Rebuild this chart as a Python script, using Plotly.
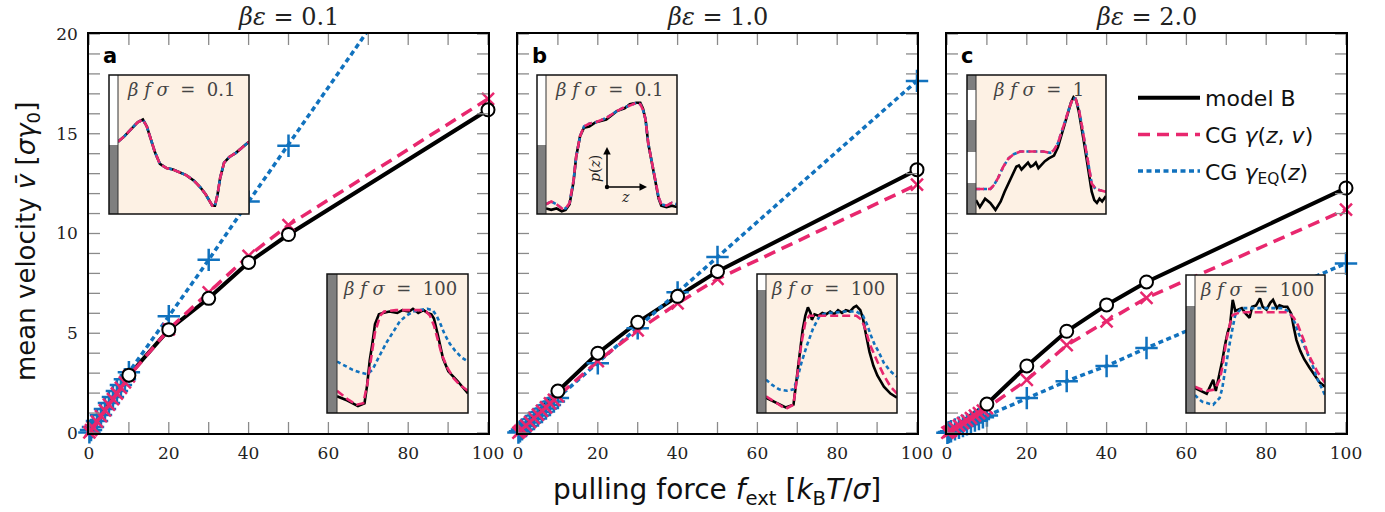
import plotly.graph_objects as go

W, H = 1385, 512

# ---------------- data: mean velocity vs pulling force ----------------
forces = [0.1, 0.5, 1, 2, 3, 4, 5, 6, 7, 8, 9, 10, 20, 30, 40, 50, 100]

panel_eps = ["0.1", "1.0", "2.0"]
panel_letters = ["a", "b", "c"]

# panel a  (beta*eps = 0.1)
v_modelB_a = [0.03, 0.15, 0.29, 0.58, 0.87, 1.16, 1.44, 1.73, 2.02, 2.30, 2.59, 2.90, 5.18, 6.75, 8.55, 9.95, 16.2]
v_cg_a     = [0.03, 0.14, 0.28, 0.57, 0.85, 1.13, 1.42, 1.70, 1.98, 2.26, 2.54, 2.84, 5.20, 7.05, 8.88, 10.42, 16.75]
v_eq_a     = [0.03, 0.15, 0.30, 0.60, 0.90, 1.20, 1.50, 1.80, 2.10, 2.40, 2.70, 3.05, 5.85, 8.68, 11.6, 14.4, 28.8]
# panel b  (beta*eps = 1.0)
v_modelB_b = [0.02, 0.11, 0.21, 0.42, 0.63, 0.84, 1.05, 1.26, 1.47, 1.68, 1.89, 2.10, 4.00, 5.55, 6.85, 8.10, 13.2]
v_cg_b     = [0.02, 0.09, 0.18, 0.37, 0.55, 0.74, 0.92, 1.11, 1.29, 1.48, 1.66, 1.85, 3.60, 5.15, 6.50, 7.72, 12.45]
v_eq_b     = [0.02, 0.09, 0.18, 0.35, 0.53, 0.70, 0.88, 1.05, 1.23, 1.40, 1.58, 1.75, 3.50, 5.25, 7.05, 8.82, 17.65]
# panel c  (beta*eps = 2.0)
v_modelB_c = [0.015, 0.07, 0.145, 0.29, 0.44, 0.58, 0.73, 0.87, 1.02, 1.16, 1.31, 1.45, 3.36, 5.10, 6.42, 7.57, 12.28]
v_cg_c     = [0.013, 0.06, 0.125, 0.25, 0.375, 0.50, 0.625, 0.75, 0.875, 1.00, 1.12, 1.25, 2.66, 4.40, 5.60, 6.77, 11.2]
v_eq_c     = [0.009, 0.044, 0.088, 0.18, 0.26, 0.35, 0.44, 0.53, 0.62, 0.70, 0.79, 0.88, 1.75, 2.60, 3.36, 4.26, 8.50]

modelB = [v_modelB_a, v_modelB_b, v_modelB_c]
cg = [v_cg_a, v_cg_b, v_cg_c]
eq = [v_eq_a, v_eq_b, v_eq_c]

x_ticks = [0, 20, 40, 60, 80, 100]
x_tick_marks = [0, 10, 20, 30, 40, 50, 60, 70, 80, 90, 100]
y_ticks = [0, 5, 10, 15, 20]
y_tick_marks = list(range(0, 21))

# ---------------- data: inset density profiles p(z) ----------------
# a, beta f sigma = 0.1 (all three curves coincide)
a1_z = [0, 0.05, 0.10, 0.15, 0.19, 0.22, 0.25, 0.28, 0.32, 0.37, 0.42, 0.47, 0.52, 0.58, 0.63, 0.67, 0.70, 0.72, 0.74, 0.76, 0.78, 0.81, 0.85, 0.90, 0.95, 1.00]
a1_p = [0.52, 0.56, 0.61, 0.66, 0.68, 0.63, 0.54, 0.45, 0.36, 0.33, 0.32, 0.30, 0.28, 0.24, 0.19, 0.14, 0.09, 0.06, 0.06, 0.14, 0.26, 0.37, 0.41, 0.44, 0.48, 0.52]
# a, beta f sigma = 100
a2_model_z = [0, 0.08, 0.16, 0.21, 0.23, 0.25, 0.27, 0.29, 0.32, 0.35, 0.40, 0.46, 0.50, 0.55, 0.58, 0.62, 0.66, 0.69, 0.72, 0.74, 0.77, 0.81, 0.85, 0.92, 1.0]
a2_model_p = [0.12, 0.09, 0.05, 0.07, 0.20, 0.38, 0.50, 0.64, 0.71, 0.72, 0.73, 0.72, 0.74, 0.73, 0.75, 0.72, 0.74, 0.72, 0.71, 0.68, 0.56, 0.39, 0.30, 0.23, 0.14]
a2_cg_z = [0, 0.08, 0.15, 0.20, 0.23, 0.26, 0.29, 0.33, 0.36, 0.45, 0.55, 0.63, 0.68, 0.71, 0.74, 0.77, 0.80, 0.84, 0.89, 0.94, 1.0]
a2_cg_p = [0.16, 0.10, 0.06, 0.07, 0.20, 0.40, 0.58, 0.70, 0.73, 0.74, 0.74, 0.74, 0.73, 0.70, 0.63, 0.52, 0.42, 0.33, 0.25, 0.20, 0.16]
a2_eq_z = [0, 0.06, 0.12, 0.18, 0.23, 0.27, 0.30, 0.34, 0.38, 0.43, 0.48, 0.53, 0.58, 0.63, 0.69, 0.73, 0.76, 0.79, 0.82, 0.86, 0.90, 0.95, 1.0]
a2_eq_p = [0.37, 0.34, 0.31, 0.29, 0.28, 0.31, 0.37, 0.44, 0.51, 0.59, 0.66, 0.70, 0.73, 0.74, 0.75, 0.74, 0.70, 0.64, 0.57, 0.50, 0.45, 0.40, 0.37]
# b, beta f sigma = 0.1
b1_z = [0, 0.04, 0.08, 0.12, 0.15, 0.18, 0.21, 0.23, 0.26, 0.29, 0.33, 0.38, 0.46, 0.54, 0.60, 0.64, 0.69, 0.72, 0.74, 0.76, 0.78, 0.80, 0.82, 0.84, 0.86, 0.88, 0.92, 0.96, 1.0]
b1_cg_p = [0.07, 0.09, 0.07, 0.04, 0.04, 0.08, 0.24, 0.41, 0.56, 0.63, 0.65, 0.66, 0.69, 0.74, 0.77, 0.78, 0.80, 0.79, 0.75, 0.68, 0.51, 0.41, 0.32, 0.22, 0.12, 0.07, 0.06, 0.08, 0.07]
b1_model_p = [0.04, 0.03, 0.04, 0.02, 0.03, 0.07, 0.23, 0.41, 0.56, 0.62, 0.63, 0.66, 0.68, 0.74, 0.76, 0.79, 0.80, 0.80, 0.76, 0.68, 0.51, 0.41, 0.32, 0.21, 0.11, 0.06, 0.05, 0.06, 0.05]
# b, beta f sigma = 100
b2_model_z = [0, 0.08, 0.15, 0.21, 0.23, 0.26, 0.28, 0.30, 0.32, 0.34, 0.35, 0.37, 0.40, 0.43, 0.46, 0.49, 0.52, 0.55, 0.58, 0.61, 0.64, 0.67, 0.69, 0.72, 0.74, 0.76, 0.79, 0.82, 0.85, 0.90, 0.95, 1.0]
b2_model_p = [0.11, 0.07, 0.04, 0.06, 0.22, 0.42, 0.60, 0.70, 0.76, 0.72, 0.67, 0.71, 0.70, 0.72, 0.71, 0.73, 0.71, 0.74, 0.72, 0.74, 0.73, 0.76, 0.77, 0.74, 0.68, 0.58, 0.44, 0.34, 0.27, 0.19, 0.14, 0.11]
b2_cg_z = [0, 0.08, 0.15, 0.21, 0.24, 0.27, 0.30, 0.33, 0.40, 0.50, 0.60, 0.69, 0.73, 0.76, 0.79, 0.82, 0.85, 0.90, 0.95, 1.0]
b2_cg_p = [0.12, 0.07, 0.03, 0.06, 0.28, 0.50, 0.65, 0.70, 0.70, 0.70, 0.70, 0.70, 0.67, 0.60, 0.50, 0.43, 0.37, 0.27, 0.19, 0.14]
b2_eq_z = [0, 0.05, 0.10, 0.16, 0.21, 0.24, 0.27, 0.31, 0.36, 0.41, 0.46, 0.51, 0.60, 0.69, 0.74, 0.77, 0.80, 0.83, 0.86, 0.90, 0.95, 1.0]
b2_eq_p = [0.24, 0.20, 0.17, 0.16, 0.17, 0.25, 0.36, 0.48, 0.61, 0.70, 0.72, 0.72, 0.73, 0.73, 0.70, 0.64, 0.56, 0.49, 0.44, 0.36, 0.30, 0.26]
# c, beta f sigma = 1
c1_cg_z = [0, 0.05, 0.11, 0.14, 0.17, 0.21, 0.25, 0.29, 0.34, 0.39, 0.45, 0.52, 0.57, 0.60, 0.63, 0.66, 0.69, 0.72, 0.745, 0.765, 0.79, 0.81, 0.83, 0.85, 0.87, 0.89, 0.92, 0.96, 1.0]
c1_cg_p = [0.18, 0.18, 0.18, 0.21, 0.26, 0.34, 0.40, 0.43, 0.45, 0.45, 0.45, 0.45, 0.44, 0.46, 0.51, 0.59, 0.68, 0.77, 0.83, 0.83, 0.76, 0.66, 0.55, 0.43, 0.32, 0.22, 0.18, 0.17, 0.16]
c1_model_z = [0, 0.03, 0.07, 0.11, 0.15, 0.19, 0.22, 0.24, 0.27, 0.29, 0.31, 0.33, 0.35, 0.37, 0.40, 0.42, 0.44, 0.46, 0.48, 0.50, 0.53, 0.56, 0.60, 0.63, 0.66, 0.70, 0.73, 0.75, 0.77, 0.79, 0.81, 0.83, 0.85, 0.87, 0.89, 0.91, 0.93, 0.95, 0.97, 1.0]
c1_model_p = [0.10, 0.05, 0.11, 0.08, 0.03, 0.09, 0.16, 0.20, 0.26, 0.30, 0.34, 0.35, 0.32, 0.34, 0.37, 0.34, 0.35, 0.37, 0.33, 0.35, 0.38, 0.40, 0.42, 0.48, 0.58, 0.70, 0.80, 0.84, 0.82, 0.74, 0.64, 0.52, 0.40, 0.28, 0.16, 0.10, 0.08, 0.11, 0.09, 0.13]
# c, beta f sigma = 100
c2_model_z = [0, 0.05, 0.09, 0.12, 0.14, 0.16, 0.19, 0.21, 0.23, 0.25, 0.27, 0.29, 0.31, 0.33, 0.36, 0.39, 0.42, 0.44, 0.47, 0.50, 0.52, 0.55, 0.58, 0.60, 0.63, 0.65, 0.68, 0.71, 0.74, 0.76, 0.78, 0.81, 0.84, 0.88, 0.92, 0.96, 1.0]
c2_model_p = [0.18, 0.16, 0.14, 0.20, 0.24, 0.16, 0.28, 0.38, 0.49, 0.58, 0.64, 0.82, 0.74, 0.75, 0.76, 0.72, 0.69, 0.77, 0.78, 0.83, 0.77, 0.75, 0.80, 0.82, 0.76, 0.78, 0.77, 0.77, 0.72, 0.62, 0.53, 0.45, 0.39, 0.33, 0.27, 0.22, 0.19]
c2_cg_z = [0, 0.05, 0.09, 0.15, 0.19, 0.21, 0.24, 0.27, 0.29, 0.35, 0.45, 0.55, 0.65, 0.71, 0.74, 0.76, 0.79, 0.81, 0.84, 0.86, 0.90, 0.94, 1.0]
c2_cg_p = [0.19, 0.17, 0.16, 0.17, 0.24, 0.33, 0.52, 0.65, 0.71, 0.73, 0.73, 0.73, 0.73, 0.73, 0.71, 0.69, 0.64, 0.59, 0.52, 0.45, 0.37, 0.30, 0.22]
c2_eq_z = [0, 0.03, 0.06, 0.10, 0.14, 0.19, 0.21, 0.23, 0.25, 0.27, 0.29, 0.31, 0.36, 0.45, 0.55, 0.68, 0.71, 0.74, 0.77, 0.79, 0.82, 0.85, 0.88, 0.91, 0.94, 0.97, 1.0]
c2_eq_p = [0.13, 0.10, 0.08, 0.07, 0.06, 0.11, 0.18, 0.30, 0.42, 0.52, 0.62, 0.71, 0.76, 0.76, 0.76, 0.76, 0.74, 0.71, 0.65, 0.59, 0.53, 0.47, 0.40, 0.33, 0.25, 0.19, 0.13]

inset_labels = ["0.1", "100", "0.1", "100", "1", "100"]

# ---------------- styling / layout geometry (pixels) ----------------
BLACK = "#000000"
PINK = "#E8276E"
BLUE = "#1172BE"
GRAY = "#7F7F7F"
TICK = "#8A8A8A"
TICK_LEN = 11
INSET_BG = "#FDF1E4"
SERIF = "DejaVu Serif"
SANS = "DejaVu Sans"

PANEL_LEFT = [89, 518, 947]
PANEL_W = 399
PANEL_TOP, PANEL_BOTTOM = 34, 433
X_RANGE = [0, 100]
Y_RANGE = [0, 20]

INSETS = [
    dict(panel=0, box=(109, 75, 249, 214), bar=9, segs=[(75, 145, "white"), (145, 214, GRAY)],
         curves=[(a1_z, a1_p, "m"), (a1_z, a1_p, "eq"), (a1_z, a1_p, "cg")]),
    dict(panel=0, box=(327, 274, 468, 413), bar=10, segs=[(274, 413, GRAY)],
         curves=[(a2_model_z, a2_model_p, "m"), (a2_eq_z, a2_eq_p, "eq"), (a2_cg_z, a2_cg_p, "cg")]),
    dict(panel=1, box=(537, 75, 677, 214), bar=9, segs=[(75, 145, "white"), (145, 214, GRAY)],
         curves=[(b1_z, b1_model_p, "m"), (b1_z, b1_cg_p, "eq"), (b1_z, b1_cg_p, "cg")]),
    dict(panel=1, box=(757, 274, 897, 413), bar=9, segs=[(274, 290, "white"), (290, 413, GRAY)],
         curves=[(b2_model_z, b2_model_p, "m"), (b2_eq_z, b2_eq_p, "eq"), (b2_cg_z, b2_cg_p, "cg")]),
    dict(panel=2, box=(967, 75, 1106, 214), bar=9,
         segs=[(75, 90, GRAY), (90, 120, "white"), (120, 152, GRAY), (152, 183, "white"), (183, 214, GRAY)],
         curves=[(c1_model_z, c1_model_p, "m"), (c1_cg_z, c1_cg_p, "eq"), (c1_cg_z, c1_cg_p, "cg")]),
    dict(panel=2, box=(1186, 275, 1325, 413), bar=9, segs=[(275, 306, "white"), (306, 413, GRAY)],
         curves=[(c2_model_z, c2_model_p, "m"), (c2_eq_z, c2_eq_p, "eq"), (c2_cg_z, c2_cg_p, "cg")]),
]
Z_RANGE = [0, 1]
P_RANGE = [0, 1]


def fx(p):
    return p / W


def fy(p):
    return 1 - p / H


fig = go.Figure()

# ---------------- main panels ----------------
for i in range(3):
    xa = "x" if i == 0 else f"x{i + 1}"
    ya = "y" if i == 0 else f"y{i + 1}"
    show = (i == 2)
    mB, vcg, veq = modelB[i], cg[i], eq[i]

    fig.add_trace(go.Scatter(x=forces, y=mB, mode="lines", xaxis=xa, yaxis=ya,
                             line=dict(color=BLACK, width=4), name="model B",
                             showlegend=show, legendrank=1, legendgroup="m", hoverinfo="skip"))
    fig.add_trace(go.Scatter(x=forces, y=veq, mode="lines", xaxis=xa, yaxis=ya,
                             line=dict(color=BLUE, width=3.5, dash="5px,3.5px"),
                             name="CG <i>γ</i><sub>EQ</sub>(<i>z</i>)",
                             showlegend=show, legendrank=3, legendgroup="eq", hoverinfo="skip"))
    fig.add_trace(go.Scatter(x=forces, y=vcg, mode="lines", xaxis=xa, yaxis=ya,
                             line=dict(color=PINK, width=3.5, dash="12px,7px"),
                             name="CG <i>γ</i>(<i>z</i>, <i>v</i>)",
                             showlegend=show, legendrank=2, legendgroup="cg", hoverinfo="skip"))

    # markers (only points inside the plotted range)
    eq_pts = [(f, v) for f, v in zip(forces, veq) if Y_RANGE[0] <= v <= Y_RANGE[1]]
    fig.add_trace(go.Scatter(x=[p[0] for p in eq_pts], y=[p[1] for p in eq_pts], mode="markers",
                             xaxis=xa, yaxis=ya, cliponaxis=False, showlegend=False, hoverinfo="skip",
                             marker=dict(symbol="cross-thin", size=16, line=dict(color=BLUE, width=2.5))))
    fig.add_trace(go.Scatter(x=forces, y=vcg, mode="markers",
                             xaxis=xa, yaxis=ya, cliponaxis=False, showlegend=False, hoverinfo="skip",
                             marker=dict(symbol="x-thin", size=12, line=dict(color=PINK, width=2.5))))
    circ = [(f, v) for f, v in zip(forces, mB) if f >= 10]
    fig.add_trace(go.Scatter(x=[p[0] for p in circ], y=[p[1] for p in circ], mode="markers",
                             xaxis=xa, yaxis=ya, cliponaxis=False, showlegend=False, hoverinfo="skip",
                             marker=dict(symbol="circle", size=13, color="white",
                                         line=dict(color=BLACK, width=2))))

# ---------------- insets ----------------
style = {
    "m": dict(color=BLACK, width=2.6),
    "eq": dict(color=BLUE, width=2.6, dash="4px,3px"),
    "cg": dict(color=PINK, width=2.6, dash="8px,4px"),
}
for k, ins in enumerate(INSETS):
    idx = 4 + k
    xa, ya = f"x{idx}", f"y{idx}"
    # opaque background of the inset (covers main curves beneath it)
    fig.add_trace(go.Scatter(x=[Z_RANGE[0], Z_RANGE[1], Z_RANGE[1], Z_RANGE[0], Z_RANGE[0]],
                             y=[P_RANGE[0], P_RANGE[0], P_RANGE[1], P_RANGE[1], P_RANGE[0]],
                             mode="lines", fill="toself", fillcolor=INSET_BG, line=dict(width=0),
                             xaxis=xa, yaxis=ya, showlegend=False, hoverinfo="skip"))
    for z, p, kind in ins["curves"]:
        fig.add_trace(go.Scatter(x=z, y=p, mode="lines", line=style[kind], xaxis=xa, yaxis=ya,
                                 showlegend=False, hoverinfo="skip"))

layout = dict(
    width=W, height=H, margin=dict(l=0, r=0, t=0, b=0, autoexpand=False),
    paper_bgcolor="white", plot_bgcolor="rgba(0,0,0,0)",
    showlegend=True,
    legend=dict(x=fx(1133), y=fy(77), xanchor="left", yanchor="top",
                font=dict(family=SANS, size=22, color="#111"), bgcolor="rgba(0,0,0,0)",
                tracegroupgap=5, itemwidth=62),
)

shapes = []
annotations = []

for i in range(3):
    sx = "" if i == 0 else str(i + 1)
    left = PANEL_LEFT[i]
    common = dict(showline=True, linecolor=BLACK, linewidth=1.5, mirror=True,
                  ticks="", showgrid=False, zeroline=False, automargin=False,
                  tickfont=dict(family=SERIF, size=17, color="#222"))
    layout[f"xaxis{sx}"] = dict(domain=[fx(left), fx(left + PANEL_W)], range=X_RANGE,
                                anchor=f"y{sx}", tickmode="array", tickvals=x_ticks, ticklabelstandoff=4,
                                **common)
    layout[f"yaxis{sx}"] = dict(domain=[fy(PANEL_BOTTOM), fy(PANEL_TOP)], range=Y_RANGE,
                                anchor=f"x{sx}", tickmode="array", tickvals=y_ticks, ticklabelstandoff=6,
                                showticklabels=(i == 0), **common)
    # inward tick marks on all four sides, placed through the axes' own scales
    xr, yr = f"x{sx}", f"y{sx}"
    for v in x_tick_marks:
        for anchor_frac, d in ((0, TICK_LEN), (1, -TICK_LEN)):
            shapes.append(dict(type="line", xref=xr, x0=v, x1=v,
                               yref=f"{yr} domain", ysizemode="pixel", yanchor=anchor_frac, y0=0, y1=d,
                               line=dict(color=TICK, width=1.3), layer="above"))
    for v in y_tick_marks:
        for anchor_frac, d in ((0, TICK_LEN), (1, -TICK_LEN)):
            shapes.append(dict(type="line", yref=yr, y0=v, y1=v,
                               xref=f"{xr} domain", xsizemode="pixel", xanchor=anchor_frac, x0=0, x1=d,
                               line=dict(color=TICK, width=1.3), layer="above"))

for k, ins in enumerate(INSETS):
    idx = 4 + k
    l, t, r, b = ins["box"]
    layout[f"xaxis{idx}"] = dict(domain=[fx(l + ins["bar"]), fx(r)], range=Z_RANGE, visible=False,
                                 anchor=f"y{idx}", fixedrange=True)
    layout[f"yaxis{idx}"] = dict(domain=[fy(b), fy(t)], range=P_RANGE, visible=False,
                                 anchor=f"x{idx}", fixedrange=True)
    for (s0, s1, col) in ins["segs"]:
        shapes.append(dict(type="rect", xref="paper", yref="paper", layer="above",
                           x0=fx(l), x1=fx(l + ins["bar"]), y0=fy(s1), y1=fy(s0),
                           fillcolor=col, line=dict(width=0)))
    shapes.append(dict(type="line", xref="paper", yref="paper", layer="above",
                       x0=fx(l + ins["bar"]), x1=fx(l + ins["bar"]), y0=fy(b), y1=fy(t),
                       line=dict(color="#333", width=1)))
    shapes.append(dict(type="rect", xref="paper", yref="paper", layer="above",
                       x0=fx(l), x1=fx(r), y0=fy(b), y1=fy(t),
                       line=dict(color="#111", width=1.5)))
    annotations.append(dict(xref="paper", yref="paper", x=fx((l + ins["bar"] + r) / 2 - 3), y=fy(t + 14),
                            text=f"<i>β f σ</i>  =  {inset_labels[k]}", showarrow=False,
                            xanchor="center", yanchor="middle",
                            font=dict(family=SERIF, size=18, color="#444")))

for i in range(3):
    left = PANEL_LEFT[i]
    annotations.append(dict(xref="paper", yref="paper", x=fx(left + PANEL_W / 2), y=fy(17),
                            text=f"<i>βε</i> = {panel_eps[i]}", showarrow=False,
                            xanchor="center", yanchor="middle",
                            font=dict(family=SERIF, size=24, color="#222")))
    annotations.append(dict(xref="paper", yref="paper", x=fx(left + 12), y=fy(56),
                            text=f"<b>{panel_letters[i]}</b>", showarrow=False,
                            xanchor="left", yanchor="middle",
                            font=dict(family=SANS, size=21, color="#000")))

# axis titles
annotations.append(dict(xref="paper", yref="paper", x=fx(717), y=fy(491),
                        text="pulling force <i>f</i><sub>ext</sub> [<i>k</i><sub>B</sub><i>T</i>/<i>σ</i>]",
                        showarrow=False, xanchor="center", yanchor="middle",
                        font=dict(family=SANS, size=28, color="#111")))
annotations.append(dict(xref="paper", yref="paper", x=fx(27), y=fy(242),
                        text="mean velocity <i>v̄</i> [<i>σγ</i><sub>0</sub>]", textangle=-90,
                        showarrow=False, xanchor="center", yanchor="middle",
                        font=dict(family=SANS, size=26, color="#111")))

# p(z) axes sketch inside inset b (top)
ox, oy = 607, 187
annotations.append(dict(xref="paper", yref="paper", x=fx(ox), y=fy(oy - 40), ax=0, ay=40,
                        text="", showarrow=True, arrowhead=2, arrowsize=1, arrowwidth=1.5,
                        arrowcolor="#000"))
annotations.append(dict(xref="paper", yref="paper", x=fx(ox + 40), y=fy(oy), ax=-40, ay=0,
                        text="", showarrow=True, arrowhead=2, arrowsize=1, arrowwidth=1.5,
                        arrowcolor="#000"))
shapes.append(dict(type="circle", xref="paper", yref="paper", layer="above",
                   x0=fx(ox - 2.2), x1=fx(ox + 2.2), y0=fy(oy + 2.2), y1=fy(oy - 2.2),
                   fillcolor="#000", line=dict(width=0)))
annotations.append(dict(xref="paper", yref="paper", x=fx(ox - 12), y=fy(oy - 18),
                        text="<i>p</i>(<i>z</i>)", textangle=-90, showarrow=False,
                        xanchor="center", yanchor="middle",
                        font=dict(family=SERIF, size=14, color="#222")))
annotations.append(dict(xref="paper", yref="paper", x=fx(ox + 18), y=fy(oy + 10),
                        text="<i>z</i>", showarrow=False, xanchor="center", yanchor="middle",
                        font=dict(family=SERIF, size=14, color="#222")))

layout["shapes"] = shapes
layout["annotations"] = annotations
fig.update_layout(**layout)

fig.write_html("out.html")
